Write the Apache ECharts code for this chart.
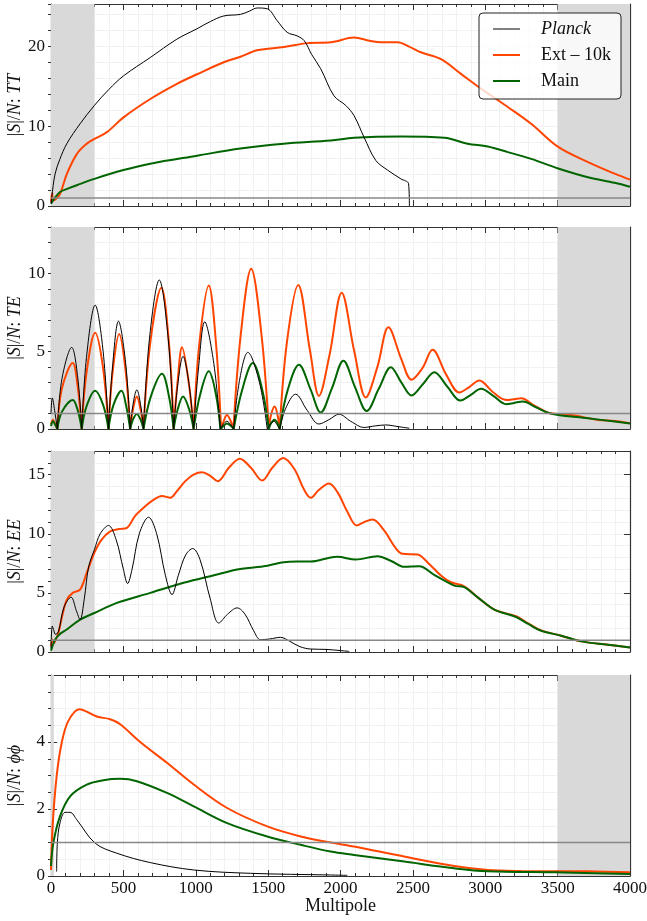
<!DOCTYPE html>
<html><head><meta charset="utf-8">
<script src="https://cdn.jsdelivr.net/npm/echarts@6/dist/echarts.min.js"></script>
<style>html,body{margin:0;padding:0;background:#fff}#c{width:647px;height:921px}</style>
</head><body><div id="c"></div>
<script>
// ---------- data (multipole l, |S|/N) ----------
const panelLabels = ['TT', 'TE', 'EE', 'ϕϕ'];
const xTicks = [0, 500, 1000, 1500, 2000, 2500, 3000, 3500, 4000];
const yMax = [25.3, 13, 17, 6];
const yMajor = [10, 5, 5, 2];
const yMinor = [2, 1, 1, 0.5];
const shadeRanges = [[[0, 300], [3500, 4000]], [[0, 300], [3500, 4000]], [[0, 300]], [[0, 20], [3500, 4000]]];
const seriesNames = ['Planck', 'Ext – 10k', 'Main'];

const planckTT = [[2,0.3],[5,1.1],[28,4.0],[60,5.8],[109,7.8],[201,10.3],[300,12.6],[400,14.6],[501,16.3],[686,18.6],[870,20.9],[1009,22.2],[1100,23.1],[1193,23.8],[1309,24.0],[1370,24.4],[1424,24.8],[1494,24.7],[1563,23.2],[1632,21.75],[1701,21.3],[1750,20.7],[1800,19.0],[1863,17.2],[1955,13.8],[2036,12.6],[2094,11.3],[2163,8.6],[2244,5.7],[2325,4.5],[2417,3.4],[2470,2.8],[2476,0]];
const extTT = [[0,0.5],[8,1.6],[14,0.7],[30,0.8],[62,1.5],[109,4.0],[178,6.5],[240,7.7],[300,8.4],[386,9.25],[501,11.1],[686,13.4],[870,15.3],[1009,16.5],[1193,18.0],[1309,18.7],[1424,19.5],[1609,19.9],[1771,20.4],[1932,20.5],[2094,21.1],[2200,20.7],[2278,20.5],[2394,20.5],[2470,20.0],[2555,19.25],[2694,18.4],[2832,16.55],[2971,14.7],[3156,12.4],[3317,10.3],[3504,7.4],[3710,5.5],[3894,4.05],[4000,3.3]];
const mainTT = [[0,0.3],[30,1.1],[62,1.75],[120,2.2],[178,2.6],[300,3.4],[501,4.5],[686,5.3],[1009,6.3],[1309,7.2],[1609,7.8],[1932,8.2],[2094,8.55],[2417,8.7],[2717,8.55],[2878,7.8],[3017,7.45],[3156,6.75],[3317,5.9],[3504,4.7],[3710,3.6],[3894,2.9],[4000,2.4]];

const planckTE = [[0,1.0],[9,2.0],[25,1.2],[44,0],[75,3.2],[143,5.25],[185,3.3],[212,0],[245,4.6],[305,7.97],[360,5.0],[397,0],[425,4.0],[466,6.94],[515,4.3],[547,0],[565,1.5],[593,2.52],[620,1.5],[639,0],[680,5.8],[748,9.59],[810,5.8],[847,0],[875,2.8],[912,4.67],[955,2.8],[985,0],[1020,4.0],[1062,6.9],[1125,4.2],[1170,0],[1190,0.3],[1215,0.5],[1240,0.3],[1262,0],[1300,3.0],[1360,4.93],[1440,3.0],[1494,0],[1515,0.3],[1540,0.5],[1560,0.3],[1580,0],[1620,1.3],[1690,2.24],[1770,1.2],[1851,0.32],[1920,0.6],[1990,0.95],[2070,0.5],[2163,0.1],[2240,0.2],[2313,0.26],[2400,0.15],[2475,0.05]];
const extTE = [[0,0.3],[14,0.6],[30,0.3],[44,0],[75,2.6],[150,4.25],[185,2.7],[212,0],[245,3.6],[305,6.19],[360,3.9],[397,0],[425,3.6],[471,6.12],[515,3.8],[547,0],[565,1.2],[593,2.09],[620,1.2],[639,0],[685,5.5],[762,9.09],[815,5.5],[847,0],[875,3.1],[905,5.26],[950,3.1],[985,0],[1025,5.5],[1090,9.24],[1140,5.5],[1175,0],[1195,0.55],[1215,0.9],[1240,0.55],[1260,0],[1310,6.0],[1383,10.32],[1455,6.0],[1505,0],[1520,0.9],[1545,1.45],[1565,0.9],[1580,0],[1630,5.6],[1708,9.27],[1790,5.0],[1851,2.13],[1925,4.8],[2008,8.77],[2095,5.0],[2175,2.03],[2255,4.0],[2331,6.55],[2420,4.5],[2491,3.17],[2565,3.9],[2636,5.1],[2730,3.5],[2821,2.35],[2890,2.7],[2959,3.12],[3050,2.4],[3144,1.87],[3200,1.92],[3248,1.98],[3340,1.5],[3433,1.05],[3504,0.97],[3617,0.87],[3779,0.58],[3894,0.52],[4000,0.37]];
const mainTE = [[0,0.2],[14,0.5],[30,0.25],[44,0],[75,1.1],[150,1.87],[185,1.2],[212,0],[245,1.45],[305,2.46],[360,1.55],[397,0],[430,1.5],[487,2.46],[520,1.45],[547,0],[565,0.58],[593,0.97],[620,0.58],[639,0],[690,2.1],[767,3.55],[815,2.1],[847,0],[875,1.25],[912,2.09],[955,1.25],[985,0],[1030,2.2],[1090,3.71],[1140,2.2],[1170,0],[1195,0.22],[1215,0.35],[1240,0.22],[1262,0],[1320,2.5],[1394,4.24],[1460,2.5],[1505,0],[1520,0.37],[1545,0.6],[1565,0.37],[1580,0],[1635,2.5],[1713,4.14],[1795,2.5],[1863,1.06],[1940,2.6],[2020,4.39],[2100,2.7],[2181,1.16],[2265,2.6],[2348,3.97],[2420,3.0],[2491,2.16],[2570,2.9],[2648,3.66],[2740,2.7],[2828,1.83],[2900,2.2],[2971,2.59],[3060,2.1],[3144,1.6],[3200,1.68],[3259,1.77],[3350,1.4],[3433,1.05],[3504,0.9],[3710,0.69],[3894,0.48],[4000,0.35]];

const planckEE = [[0,0.3],[9,2.2],[20,1.8],[30,1.5],[51,1.7],[90,3.8],[139,4.63],[175,3.5],[201,2.74],[230,4.5],[260,7.2],[300,8.67],[340,10.0],[397,10.7],[450,9.5],[500,7.0],[529,5.79],[560,7.0],[610,10.0],[674,11.4],[730,10.0],[790,6.5],[836,4.86],[880,6.5],[930,8.2],[979,8.75],[1030,7.8],[1100,4.5],[1159,2.45],[1220,3.2],[1286,3.73],[1340,3.2],[1400,1.8],[1447,1.04],[1510,1.1],[1586,1.24],[1650,0.9],[1720,0.45],[1794,0.25],[1900,0.22],[2000,0.12],[2060,0.05]];
const extEE = [[0,0.5],[10,1.05],[20,0.75],[35,1.1],[51,1.6],[80,3.2],[109,4.4],[150,5.0],[201,5.28],[250,6.8],[300,8.4],[350,9.5],[409,10.2],[470,10.4],[524,10.5],[580,11.5],[639,12.2],[700,12.8],[767,13.2],[824,13.05],[870,13.6],[928,14.45],[985,15.0],[1044,15.2],[1100,14.9],[1152,14.45],[1230,15.6],[1304,16.35],[1380,15.6],[1459,14.5],[1530,15.6],[1604,16.4],[1680,15.5],[1750,13.7],[1794,13.05],[1850,13.7],[1920,14.25],[1980,13.5],[2050,11.8],[2112,10.7],[2165,11.0],[2221,11.2],[2300,10.3],[2380,8.8],[2429,8.3],[2532,8.25],[2600,7.6],[2700,6.4],[2763,5.9],[2855,5.56],[2950,4.6],[3063,3.58],[3213,3.02],[3300,2.4],[3386,1.83],[3525,1.38],[3663,0.9],[3848,0.62],[4000,0.39]];
const mainEE = [[0,0.1],[28,1.04],[60,1.5],[109,1.9],[201,2.74],[300,3.3],[455,4.15],[686,5.0],[916,5.85],[1147,6.55],[1286,6.97],[1400,7.15],[1470,7.25],[1609,7.6],[1700,7.65],[1794,7.65],[1932,8.0],[1978,8.05],[2105,7.82],[2255,8.1],[2350,7.7],[2440,7.2],[2544,7.25],[2650,6.5],[2786,5.62],[2855,5.48],[2950,4.6],[3063,3.58],[3213,2.96],[3300,2.35],[3386,1.8],[3525,1.38],[3663,0.9],[3848,0.62],[4000,0.39]];

const planckPP = [[39,0.13],[44,1.0],[62,1.58],[97,1.9],[132,1.9],[178,1.68],[305,0.98],[455,0.68],[686,0.4],[986,0.18],[1378,0.08],[1932,0.03],[2047,0.02]];
const extPP = [[0,0.18],[11,1.48],[39,2.98],[74,3.98],[120,4.63],[196,4.98],[316,4.76],[409,4.68],[478,4.53],[616,4.0],[801,3.38],[986,2.73],[1217,2.03],[1494,1.48],[1725,1.18],[1932,1.0],[2094,0.88],[2440,0.58],[2786,0.3],[3017,0.18],[3248,0.15],[3710,0.14],[4000,0.11]];
const mainPP = [[0,0.3],[16,0.98],[62,1.78],[132,2.38],[247,2.73],[362,2.86],[478,2.9],[593,2.83],[801,2.48],[986,2.08],[1217,1.58],[1494,1.18],[1725,0.93],[1932,0.73],[2094,0.63],[2440,0.43],[2786,0.23],[3017,0.14],[3479,0.11],[4000,0.06]];

const panelData = [
  [planckTT, extTT, mainTT],
  [planckTE, extTE, mainTE],
  [planckEE, extEE, mainEE],
  [planckPP, extPP, mainPP]
];

// |S|/N curves that touch zero have cusps there: break the smoothed path at interior zeros
function breakAtZeros(arr) {
  const out = [];
  arr.forEach((pt, i) => {
    out.push(pt);
    if (pt[1] === 0 && i > 0 && i < arr.length - 1) { out.push([pt[0], '-']); out.push(pt); }
  });
  return out;
}

// ---------- chart ----------
const FONT = '"Liberation Serif","DejaVu Serif","Times New Roman",serif';
const TXT = '#111';
const AX = '#333';
const gridTops = [4, 227, 451, 675];
const gridHeights = [202, 202, 201, 201];
const colors = ['#000000', '#ff4500', '#006400'];
const widths = [1, 2, 2];
const faint = { color: '#f1f1f1', type: 'solid', width: 1 };
const dots = { color: '#b4b4b4', type: [1.5, 12.94], width: 1.2 };
const icons = ['path://M0,0H27V1H0Z', 'path://M0,0H27V2H0Z', 'path://M0,0H27V2H0Z'];

const grid = [], xAxis = [], yAxis = [], series = [];
for (let p = 0; p < 4; p++) {
  const last = p === 3;
  grid.push({ left: 51, right: 17, top: gridTops[p], height: gridHeights[p], containLabel: false, outerBoundsMode: 'none' });
  const xBase = {
    type: 'value', gridIndex: p, min: xTicks[0], max: xTicks[xTicks.length - 1],
    interval: xTicks[1] - xTicks[0],
    axisLine: { show: true, onZero: false, lineStyle: { color: AX, width: 1.2 } },
    axisTick: { show: true, inside: true, length: 6, lineStyle: { color: AX } },
    minorTick: { show: true, splitNumber: 5, length: 3, lineStyle: { color: AX } }
  };
  xAxis.push(Object.assign({}, xBase, {
    position: 'bottom',
    splitLine: { show: true, lineStyle: faint },
    minorSplitLine: { show: true, lineStyle: faint },
    axisLabel: { show: last, fontFamily: FONT, fontSize: 17, color: TXT, margin: 4,
      formatter: v => String(v) },
    name: last ? 'Multipole' : '', nameLocation: 'middle', nameGap: 21, nameMoveOverlap: false,
    nameTextStyle: { fontFamily: FONT, fontSize: 18, color: TXT }
  }));
  xAxis.push(Object.assign({}, xBase, {
    position: 'top', splitLine: { show: false }, axisLabel: { show: false }
  }));

  const yBase = { type: 'value', gridIndex: p, min: 0, max: yMax[p] };
  yAxis.push(Object.assign({}, yBase, {
    position: 'left', interval: yMajor[p],
    axisLine: { show: true, onZero: false, lineStyle: { color: AX, width: 1.2 } },
    axisTick: { show: true, inside: true, length: 6, lineStyle: { color: AX } },
    splitLine: { show: false },
    axisLabel: { show: true, showMaxLabel: false, fontFamily: FONT, fontSize: 17, color: TXT, margin: 6,
      formatter: v => String(v) },
    name: '|{i|S}|/{i|N}: {i|' + panelLabels[p] + '}',
    nameLocation: 'middle', nameGap: 27, nameRotate: 90, nameMoveOverlap: false,
    nameTextStyle: { fontFamily: FONT, fontSize: 18, color: TXT,
      rich: { i: { fontFamily: FONT, fontSize: 18, fontStyle: 'italic', color: TXT } } }
  }));
  yAxis.push(Object.assign({}, yBase, {
    position: 'left', interval: yMinor[p],
    axisLine: { show: false },
    axisTick: { show: true, inside: true, length: 3, lineStyle: { color: AX } },
    splitLine: { show: true, lineStyle: dots },
    axisLabel: { show: false }
  }));
  yAxis.push(Object.assign({}, yBase, {
    position: 'right', interval: yMajor[p],
    axisLine: { show: true, onZero: false, lineStyle: { color: AX, width: 1.2 } },
    axisTick: { show: true, inside: true, length: 6, lineStyle: { color: AX } },
    splitLine: { show: false }, axisLabel: { show: false }
  }));
  yAxis.push(Object.assign({}, yBase, {
    position: 'right', interval: yMinor[p],
    axisLine: { show: false },
    axisTick: { show: true, inside: true, length: 3, lineStyle: { color: AX } },
    splitLine: { show: true, lineStyle: faint }, axisLabel: { show: false }
  }));

  const xi = p * 2, yi = p * 4;
  series.push({
    type: 'line', xAxisIndex: xi, yAxisIndex: yi, data: [[0, 1], [4000, 1]],
    symbol: 'none', lineStyle: { opacity: 0 }, silent: true, z: 1,
    markArea: { silent: true, itemStyle: { color: '#d9d9d9' },
      data: shadeRanges[p].map(r => [{ xAxis: r[0] }, { xAxis: r[1] }]) }
  });
  [1, 2, 0].forEach(k => {
    const d = p === 1 ? breakAtZeros(panelData[p][k]) : panelData[p][k];
    series.push({
      name: seriesNames[k], type: 'line', xAxisIndex: xi, yAxisIndex: yi,
      data: d, smooth: 0.35, symbol: 'none', connectNulls: false,
      lineStyle: { color: colors[k], width: widths[k] }, itemStyle: { color: colors[k] },
      z: k === 0 ? 4 : 3, silent: true
    });
  });
  series.push({
    type: 'line', xAxisIndex: xi, yAxisIndex: yi, data: [[0, 1], [4000, 1]],
    symbol: 'none', lineStyle: { color: '#888', width: 1.5 }, z: 5, silent: true
  });
}

const chart = echarts.init(document.getElementById('c'), null, { renderer: 'canvas' });
chart.setOption({
  animation: false,
  backgroundColor: '#fff',
  grid, xAxis, yAxis, series,
  legend: {
    data: seriesNames.map((n, k) => ({ name: n, icon: icons[k] })),
    orient: 'vertical', right: 26, top: 13,
    padding: [7, 10, 9, 14], itemGap: 8, itemWidth: 27, itemHeight: 18,
    backgroundColor: 'rgba(255,255,255,0.8)', borderColor: '#222', borderWidth: 1, borderRadius: 4,
    formatter: n => n === 'Planck' ? '{it|' + n + '}' : '{n|' + n + '}',
    textStyle: { fontFamily: FONT, fontSize: 18, color: TXT,
      rich: {
        it: { fontFamily: FONT, fontSize: 18, fontStyle: 'italic', color: TXT, padding: [0, 0, 0, 16], lineHeight: 18 },
        n: { fontFamily: FONT, fontSize: 18, color: TXT, padding: [0, 0, 0, 16], lineHeight: 18 }
      } }
  }
});
</script></body></html>
